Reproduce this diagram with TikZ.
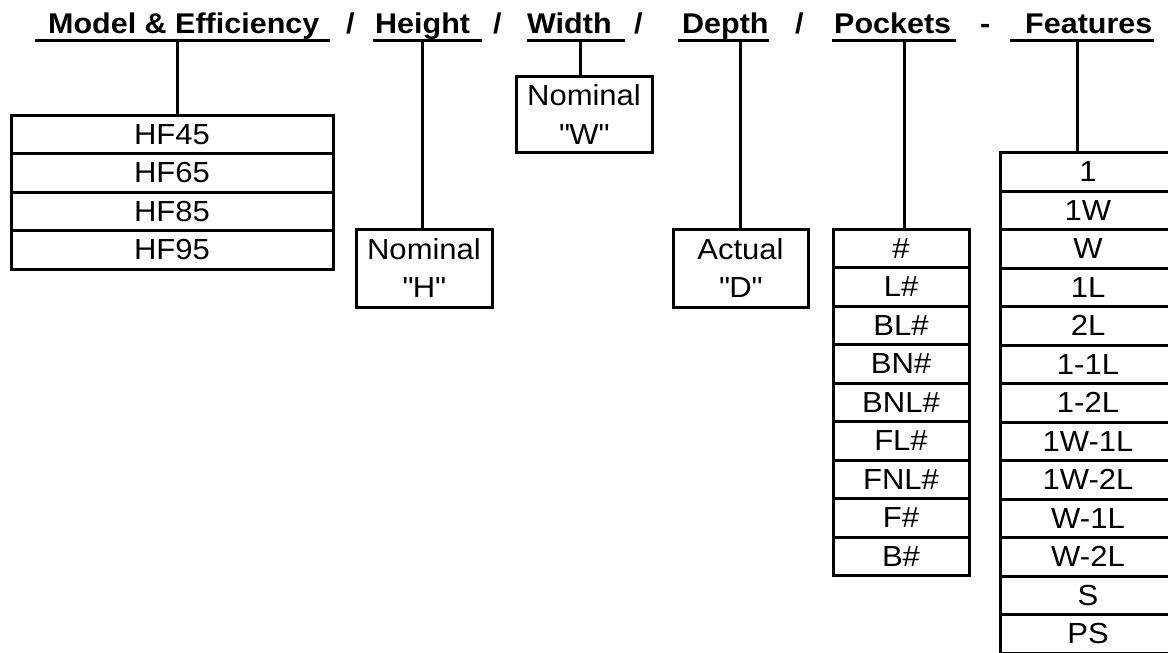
\documentclass[tikz,border=0pt]{standalone}
\usepackage{fontspec}
\setmainfont{Liberation Sans}[FakeStretch=1.07]
\usetikzlibrary{positioning}

\tikzset{
  cell/.style={draw, line width=3pt, outer sep=0pt, inner sep=0pt,
    minimum height=38.5pt, align=center, font=\fontsize{29}{38.5}\selectfont},
  head/.style={anchor=base west, inner sep=0pt, font=\fontsize{28.5}{34}\selectfont\bfseries},
  stem/.style={line width=3pt},
}

\begin{document}
\begin{tikzpicture}[x=1pt, y=-1pt]
   \useasboundingbox (0,0) rectangle (1168,653);
   \fill[white] (0,0) rectangle (1168,653);
   % header
   \node[head] (model) at (48,33) {Model \& Efficiency};
   \node[head] (sl1) at (346,33) {/};
   \node[head] (height) at (375,33) {Height};
   \node[head] (sl2) at (493,33) {/};
   \node[head] (width) at (527,33) {Width};
   \node[head] (sl3) at (634,33) {/};
   \node[head] (depth) at (682,33) {Depth};
   \node[head] (sl4) at (795,33) {/};
   \node[head] (pockets) at (834,33) {Pockets};
   \node[head] (dash) at (980,33) {-};
   \node[head] (features) at (1025,33) {Features};
   \draw[stem] ([xshift=-13pt, yshift=-7pt]model.base west) -- ([xshift=10pt, yshift=-7pt]model.base east);
   \draw[stem] ([xshift=-2pt, yshift=-7pt]height.base west) -- ([xshift=12pt, yshift=-7pt]height.base east);
   \draw[stem] ([yshift=-7pt]width.base west) -- ([xshift=13pt, yshift=-7pt]width.base east);
   \draw[stem] ([xshift=-4pt, yshift=-7pt]depth.base west) -- ([yshift=-7pt]depth.base east);
   \draw[stem] ([xshift=-2pt, yshift=-7pt]pockets.base west) -- ([xshift=5pt, yshift=-7pt]pockets.base east);
   \draw[stem] ([xshift=-15pt, yshift=-7pt]features.base west) -- ([xshift=1pt, yshift=-7pt]features.base east);
   % model column
   \node[cell, minimum width=322pt] (hf45) at (172,134.25) {HF45};
   \node[cell, minimum width=322pt, below=0pt of hf45] (hf65) {HF65};
   \node[cell, minimum width=322pt, below=0pt of hf65] (hf85) {HF85};
   \node[cell, minimum width=322pt, below=0pt of hf85] (hf95) {HF95};
   % single boxes
   \node[cell, minimum width=136pt, minimum height=78pt] (nomh) at (424,268) {Nominal\\\textquotedbl H\textquotedbl};
   \node[cell, minimum width=136pt, minimum height=76pt] (nomw) at (584,114.5) {Nominal\\\textquotedbl W\textquotedbl};
   \node[cell, minimum width=135pt, minimum height=78pt] (actd) at (740.5,268) {Actual\\\textquotedbl D\textquotedbl};
   % pockets column
   \node[cell, minimum width=136pt] (pock1) at (901,248.25) {\#};
   \foreach \t [count=\i from 2] in {L\#, BL\#, BN\#, BNL\#, FL\#, FNL\#, F\#, B\#} {
      \pgfmathtruncatemacro\j{\i-1}
      \node[cell, minimum width=136pt, below=0pt of pock\j] (pock\i) {\t};
   }
   % features column
   \node[cell, minimum width=176pt] (feat1) at (1088,171.75) {1};
   \foreach \t [count=\i from 2] in {1W, W, 1L, 2L, 1-1L, 1-2L, 1W-1L, 1W-2L, W-1L, W-2L, S, PS} {
      \pgfmathtruncatemacro\j{\i-1}
      \node[cell, minimum width=176pt, below=0pt of feat\j] (feat\i) {\t};
   }
   % stems
   \coordinate (modelu) at (177,40);
   \coordinate (heightu) at (422,40);
   \coordinate (widthu) at (580,40);
   \coordinate (depthu) at (740,40);
   \coordinate (pocketsu) at (904,40);
   \coordinate (featuresu) at (1077,40);
   \draw[stem] (modelu) -- (modelu |- hf45.north);
   \draw[stem] (heightu) -- (heightu |- nomh.north);
   \draw[stem] (widthu) -- (widthu |- nomw.north);
   \draw[stem] (depthu) -- (depthu |- actd.north);
   \draw[stem] (pocketsu) -- (pocketsu |- pock1.north);
   \draw[stem] (featuresu) -- (featuresu |- feat1.north);
\end{tikzpicture}
\end{document}
